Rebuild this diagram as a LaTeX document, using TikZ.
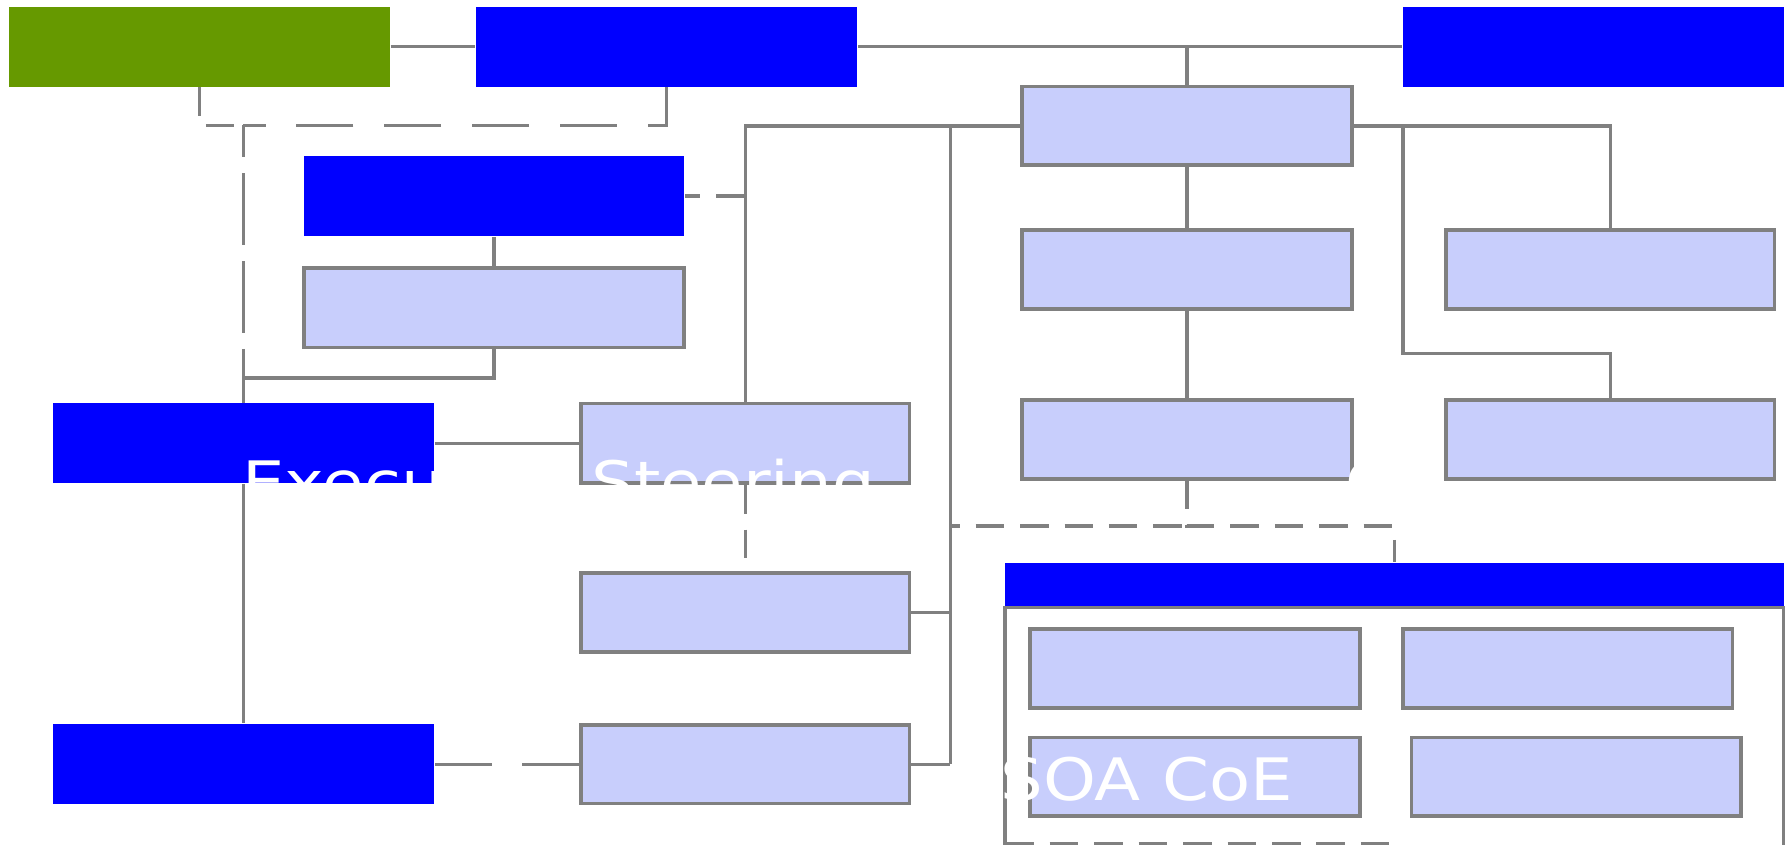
\documentclass[tikz,border=0pt]{standalone}
\usepackage{fontspec}
\newfontfamily\boxfont{DejaVu Sans}
\usetikzlibrary{positioning}

\definecolor{orggreen}{RGB}{102,153,0}
\definecolor{orgblue}{RGB}{0,0,255}
\definecolor{orglight}{RGB}{200,206,252}
\definecolor{orggray}{RGB}{128,128,128}

\begin{document}
\begin{tikzpicture}[x=0.01cm, y=-0.01cm,
  bx/.style={rectangle, inner sep=0, minimum width=3.34cm, minimum height=0.70cm},
  bgreen/.style={bx, fill=orggreen},
  bblue/.style={bx, fill=orgblue},
  blight/.style={bx, fill=orglight, draw=orggray, line width=0.9pt,
                 minimum width=2.89cm, minimum height=0.69cm},
  link/.style={draw=orggray, line width=0.8pt},
  dlong/.style={link, dash pattern=on 0.5cm off 0.27cm},
  dshort/.style={link, dash pattern=on 0.25cm off 0.14cm},
  wtxt/.style={text=white, inner sep=0, anchor=base west,
               font=\boxfont\fontsize{14.6}{17}\selectfont}
]

\fill[white] (0,0) rectangle (1568,741);
\useasboundingbox (0,0) rectangle (1568,741);

%% ── nodes ───────────────────────────────────────────────────────────────
\node[bgreen] (gtop)    at (175,41)      {};
\node[bblue]  (btop)    at (585,41)      {};
\node[bblue]  (bright)  at (1398,41)     {};

%% left column
\node[bblue]  (bmid)    at (433.5,172)   {};
\node[blight, minimum width=3.33cm, minimum height=0.70cm] (lmid) at (433.5,270) {};
\node[bblue]  (bexec)   at (213.5,389)   {};
\node[bblue]  (bbottom) at (213.5,670.5) {};

%% steering column (x = 654)
\node[blight, minimum width=2.88cm, minimum height=0.70cm] (steer) at (654,389) {};
\node[blight, minimum width=2.88cm] (steer2) at (654,537.5) {};
\node[blight, minimum width=2.88cm] (steer3) at (654,670.5) {};

%% centre column (x = 1041)
\node[blight] (c1) at (1041.5,110.5) {};
\node[blight] (c2) at (1041.5,236.5) {};
\node[blight] (c3) at (1041.5,385.5) {};

%% right column
\node[blight, minimum width=2.88cm] (r1) at (1413,236.5) {};
\node[blight, minimum width=2.88cm] (r2) at (1413,385.5) {};

%% CoE group
\node[bblue, minimum width=6.83cm, minimum height=0.39cm] (coehead) at (1223.5,513.5) {};
\node[rectangle, inner sep=0, fill=white, draw=orggray, line width=0.8pt,
      minimum width=6.83cm, minimum height=2.17cm] (coe) at (1223.5,641.5) {};
\node[blight] (coe1) at (1048.5,586.5) {};
\node[blight] (coe2) at (1375.5,586.5) {};
\node[blight] (coe3) at (1048.5,681.5) {};
\node[blight] (coe4) at (1383,681.5)   {};

\coordinate (dl)     at (0,110);
\coordinate (trunk)  at (834,110);
\coordinate (rtrunk) at (1231,110);
\coordinate (cb)     at (882,740.5);

%% ── edges ───────────────────────────────────────────────────────────────
% top row
\draw[link] (gtop) -- (btop);
\draw[link] (btop) -- (bright);
\draw[link] (btop.east -| c1.north) -- (c1.north);

% dashed links to the executive box
\draw[dlong] (btop.south) -- (btop.south |- dl) -- (bexec.north |- dl);
\draw[dshort] (gtop.south) -- (gtop.south |- dl) -- (bexec.north |- dl);
\draw[link, dash pattern=on 0.63cm off 0.14cm, dash phase=0.35cm]
     (bexec.north |- dl) -- (bexec.north);

% left column
\draw[link] (bmid) -- (lmid);
\draw[link] (lmid.south) -- ++(0,25) -| (bexec.north);
\draw[dshort, dash phase=0.12cm] (bmid.east) -- (bmid.east -| steer.north);
\draw[link] (bexec) -- (steer);
\draw[link] (bexec) -- (bbottom);
\draw[dlong] (steer3.west) -- (bbottom.east);

% steering column
\draw[link] (c1.west) -| (steer.north);
\draw[dshort] (steer) -- (steer2);
\draw[link] (trunk) -- (trunk |- steer3.east);
\draw[link] (steer2.east) -- (steer2.east -| trunk);
\draw[link] (steer3.east) -- (steer3.east -| trunk);

% centre and right columns
\draw[link] (c1) -- (c2);
\draw[link] (c2) -- (c3);
\draw[link] (c1.east) -| (r1.north);
\draw[link] (rtrunk) -- ++(0,200) -| (r2.north);

% down to the CoE group
\draw[dshort] (c3.south) -- ++(0,40) coordinate (cj) -| (coehead.north);
\draw[dshort, dash phase=0.17cm] (trunk |- cj) -- (cj);
\draw[dshort] (cb) -- (cb -| coehead.north);

%% ── white labels ─────────────────────────────────────────────────────────
\node[wtxt] (exectxt) at (212,441.5) {\scalebox{1.15}[1]{Executive Steering}};
\node[wtxt] (ctxt)    at (1180,441.5) {\scalebox{1.15}[1]{C}};
\node[wtxt] (coetxt)  at (877,702.5)  {\scalebox{1.15}[1]{SOA CoE}};

\end{tikzpicture}
\end{document}
